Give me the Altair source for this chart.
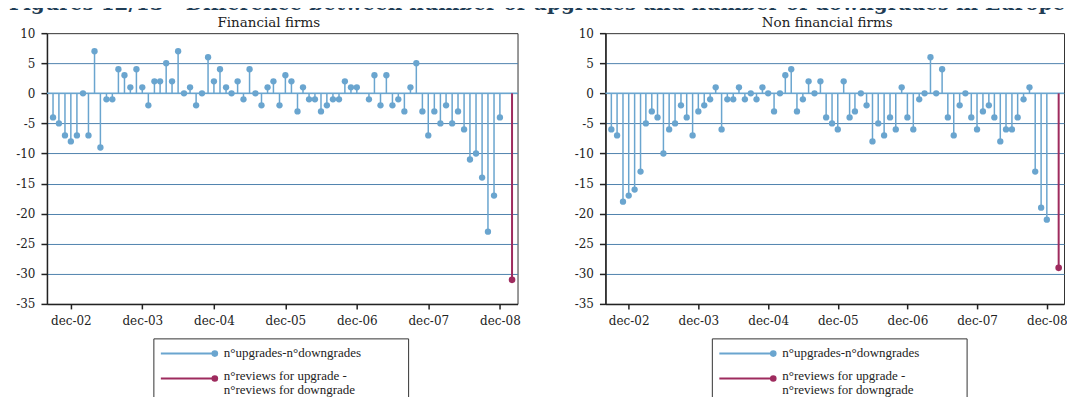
import altair as alt
import pandas as pd

# ---------------- data ----------------
title_text = "Figures 12/13 - Difference between number of upgrades and number of downgrades in Europe"
panel_titles = ["Financial firms", "Non financial firms"]

# monthly observations, sep-02 .. dec-08
months = pd.date_range("2002-09-01", "2008-12-01", freq="MS").strftime("%Y-%m-%d").tolist()

fin_values = (
    [-4, -5, -7, -8]                                            # 2002 (sep-dec)
    + [-7, 0, -7, 7, -9, -1, -1, 4, 3, 1, 4, 1]                 # 2003
    + [-2, 2, 2, 5, 2, 7, 0, 1, -2, 0, 6, 2]                    # 2004
    + [4, 1, 0, 2, -1, 4, 0, -2, 1, 2, -2, 3]                   # 2005
    + [2, -3, 1, -1, -1, -3, -2, -1, -1, 2, 1, 1]               # 2006
    + [None, -1, 3, -2, 3, -2, -1, -3, 1, 5, -3, -7]            # 2007
    + [-3, -5, -2, -5, -3, -6, -11, -10, -14, -23, -17, -4]     # 2008
)
nonfin_values = (
    [-6, -7, -18, -17]                                          # 2002 (sep-dec)
    + [-16, -13, -5, -3, -4, -10, -6, -5, -2, -4, -7, -3]       # 2003
    + [-2, -1, 1, -6, -1, -1, 1, -1, 0, -1, 1, 0]               # 2004
    + [-3, 0, 3, 4, -3, -1, 2, 0, 2, -4, -5, -6]                # 2005
    + [2, -4, -3, 0, -2, -8, -5, -7, -4, -6, 1, -4]             # 2006
    + [-6, -1, 0, 6, 0, 4, -4, -7, -2, 0, -4, -6]               # 2007
    + [-3, -2, -4, -8, -6, -6, -4, -1, 1, -13, -19, -21]        # 2008
)
# first financial observation is drawn without a marker in the original
fin_unmarked = ["2002-09-01"]
nonfin_unmarked = []

review_month = "2009-02-01"
fin_review = -31
nonfin_review = -29

legend_labels = ["n°upgrades-n°downgrades", "n°reviews for upgrade -\nn°reviews for downgrade"]

x_ticks_years = [2002, 2003, 2004, 2005, 2006, 2007, 2008]
y_ticks = [-35, -30, -25, -20, -15, -10, -5, 0, 5, 10]

# ---------------- style / layout ----------------
BLUE = "#6aa5cf"
RED = "#9e2b5e"
GRID = "#4f83ae"
DARK = "#222222"
TITLE_COLOR = "#1f3d55"
SERIF = "DejaVu Serif"
LEGEND_FONT = "Liberation Serif"
PLOT_H = 271
LEFT_W = 471
RIGHT_W = 459
ONE = pd.DataFrame({"k": [0]})


def panel(title, values, unmarked, review, width, extras):
    df = pd.DataFrame({"month": months, "value": values})
    rev = pd.DataFrame({"month": [review_month], "value": [review]})

    x_enc = alt.X(
        "month:T",
        scale=alt.Scale(
            type="utc",
            domain=[alt.DateTime(year=2002, month=8, date=1, utc=True),
                    alt.DateTime(year=2009, month=3, date=1, utc=True)],
        ),
        axis=alt.Axis(
            values=[alt.DateTime(year=y, month=12, date=1, utc=True) for y in x_ticks_years],
            labelExpr="lower(utcFormat(datum.value, '%b-%y'))",
            title=None, grid=False, tickSize=5, labelPadding=7, tickCount=20,
            labelFont=SERIF, labelFontSize=12, labelColor=DARK, labelOverlap=False,
        ),
    )
    y_enc = alt.Y(
        "value:Q",
        scale=alt.Scale(domain=[-35, 10], nice=False, zero=False),
        axis=alt.Axis(
            values=y_ticks, tickCount=20, labelExpr="'' + datum.value", title=None,
            grid=True, gridColor=GRID, gridWidth=1,
            gridOpacity={"condition": {"test": "datum.value == 10 || datum.value == -35", "value": 0}, "value": 1},
            tickSize=6, labelPadding=6,
            labelFont=SERIF, labelFontSize=12, labelColor=DARK, labelOverlap=False,
        ),
    )

    base = alt.Chart(df).transform_filter("isValid(datum.value)")
    stems = base.mark_rule(color=BLUE, strokeWidth=1.5).encode(x=x_enc, y=y_enc, y2=alt.datum(0))
    zero = alt.Chart(ONE).mark_rule(color=BLUE, strokeWidth=1.5).encode(y=alt.datum(0))
    flt = " && ".join([f"datum.month != '{m}'" for m in unmarked]) or "true"
    dots = base.transform_filter(flt).mark_circle(color=BLUE, size=40, opacity=1).encode(x=x_enc, y=y_enc)
    rstem = alt.Chart(rev).mark_rule(color=RED, strokeWidth=2).encode(x=x_enc, y=y_enc, y2=alt.datum(0))
    rdot = alt.Chart(rev).mark_circle(color=RED, size=44, opacity=1).encode(x=x_enc, y=y_enc)

    # panel title
    ptitle = alt.Chart(pd.DataFrame({"t": [title]})).mark_text(
        align="center", baseline="alphabetic", font=SERIF, fontSize=13.5, color=DARK).encode(
        x=alt.value(222), y=alt.value(-6.5), text="t:N")

    # legend box drawn below the plot area (its lower part runs off the page)
    bx = 107
    by = PLOT_H + 35
    box = alt.Chart(ONE).mark_rect(fill="white", fillOpacity=0, stroke="#333", strokeWidth=1).encode(
        x=alt.value(bx), x2=alt.value(bx + 255), y=alt.value(by), y2=alt.value(by + 72))
    l1 = alt.Chart(ONE).mark_rule(color=BLUE, strokeWidth=2).encode(
        x=alt.value(bx + 7), x2=alt.value(bx + 61), y=alt.value(by + 14.7))
    d1 = alt.Chart(ONE).mark_circle(color=BLUE, size=44, opacity=1).encode(
        x=alt.value(bx + 61), y=alt.value(by + 14.7))
    t1 = alt.Chart(pd.DataFrame({"t": [legend_labels[0]]})).mark_text(
        align="left", baseline="middle", font=LEGEND_FONT, fontSize=13, color=DARK).encode(
        x=alt.value(bx + 70), y=alt.value(by + 14), text="t:N")
    l2 = alt.Chart(ONE).mark_rule(color=RED, strokeWidth=2).encode(
        x=alt.value(bx + 7), x2=alt.value(bx + 61), y=alt.value(by + 39.7))
    d2 = alt.Chart(ONE).mark_circle(color=RED, size=44, opacity=1).encode(
        x=alt.value(bx + 61), y=alt.value(by + 39.7))
    t2 = alt.Chart(pd.DataFrame({"t": [legend_labels[1]]})).mark_text(
        align="left", baseline="middle", font=LEGEND_FONT, fontSize=13, color=DARK,
        lineBreak="\n", lineHeight=14.3).encode(
        x=alt.value(bx + 70), y=alt.value(by + 37), text="t:N")

    return alt.layer(stems, zero, dots, rstem, rdot, ptitle, box, l1, d1, t1, l2, d2, t2, *extras).properties(
        width=width, height=PLOT_H,
    )


# page title: its top half runs off the page, as in the original
main_title = alt.Chart(pd.DataFrame({"t": [title_text]})).mark_text(
    align="left", baseline="alphabetic", font=SERIF, fontWeight="bold",
    fontSize=20, color=TITLE_COLOR).encode(
    x=alt.value(-38), y=alt.value(-23.5), text="t:N")
# invisible layout anchors that fix the chart's outer extent
top_anchor = alt.Chart(ONE).mark_rule(strokeOpacity=0).encode(
    x=alt.value(0), x2=alt.value(1), y=alt.value(-48))
right_anchor = alt.Chart(ONE).mark_rule(strokeOpacity=0).encode(
    x=alt.value(RIGHT_W + 20), y=alt.value(0), y2=alt.value(1))

left = panel(panel_titles[0], fin_values, fin_unmarked, fin_review, LEFT_W, [main_title, top_anchor])
right = panel(panel_titles[1], nonfin_values, nonfin_unmarked, nonfin_review, RIGHT_W, [right_anchor])

chart = alt.hconcat(left, right, spacing=88, bounds="flush").properties(
    padding={"left": 0, "top": -24, "right": -18, "bottom": 0},
).configure_view(
    stroke="#333", strokeWidth=1,
).configure_axis(
    labelFont=SERIF, labelFontSize=12, labelColor=DARK,
    domainColor=DARK, tickColor=DARK, domainWidth=1.5, tickWidth=1.5,
)

chart.save("out.html", embed_options={"renderer": "svg", "actions": False})
